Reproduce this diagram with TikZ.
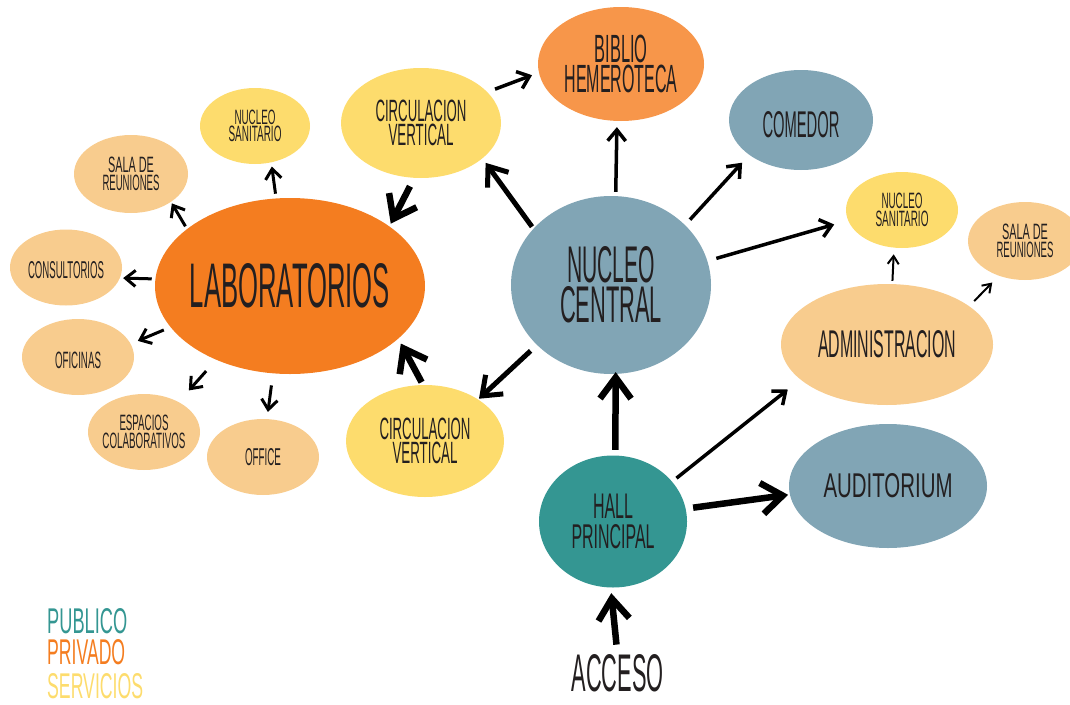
\documentclass[tikz,border=0pt]{standalone}
\usepackage{fontspec}
\usepackage{graphicx}
\newfontfamily\condfont{Liberation Sans}
\usetikzlibrary{arrows.meta,shapes.geometric,calc}
\definecolor{cLab}{HTML}{F47D20}
\definecolor{cBib}{HTML}{F7964A}
\definecolor{cYel}{HTML}{FDDC6D}
\definecolor{cLig}{HTML}{F8CC8E}
\definecolor{cBlu}{HTML}{81A5B5}
\definecolor{cTea}{HTML}{349692}
\definecolor{cTxt}{HTML}{231F20}
\newcommand{\fitline}[3]{\resizebox{#1pt}{#2pt}{\condfont #3}}
\tikzset{
  blob/.style n args={2}{ellipse, draw=none, inner sep=0pt, minimum width=#1pt, minimum height=#2pt},
  txt/.style={inner sep=0pt, align=center, text=cTxt, font=\fontsize{10pt}{#1pt}\selectfont},
  txt/.default=20,
  arrA/.style={line width=3pt, -{Straight Barb[length=10pt,width=16pt]}},
  arrB/.style={line width=3.5pt, -{Straight Barb[length=11pt,width=18pt]}},
  arrC/.style={line width=5pt, -{Straight Barb[length=17pt,width=26pt]}},
  arrD/.style={line width=6.5pt, -{Straight Barb[length=21pt,width=31pt]}},
  arrE/.style={line width=2pt, -{Straight Barb[length=8pt,width=11pt]}},
}
\begin{document}
\begin{tikzpicture}[x=1pt,y=-1pt]
\useasboundingbox (0,0) rectangle (1070,704);
\clip (0,0) rectangle (1070,704);
% ellipses
\node[blob={270}{176}, fill=cLab] (lab) at (290,286) {};
\node[blob={110}{76}, fill=cYel] (nsl) at (255,126) {};
\node[blob={114}{78}, fill=cLig] (salaL) at (131,174) {};
\node[blob={112}{76}, fill=cLig] (cons) at (66,267.5) {};
\node[blob={112}{76}, fill=cLig] (ofi) at (78,357) {};
\node[blob={112}{76}, fill=cLig] (esp) at (144,432) {};
\node[blob={112}{76}, fill=cLig] (office) at (263,457) {};
\node[blob={160}{110}, fill=cYel] (circT) at (421,123) {};
\node[blob={166}{114}, fill=cBib] (biblio) at (621,64) {};
\node[blob={144}{100}, fill=cBlu] (comedor) at (801,120) {};
\node[blob={200}{178}, fill=cBlu] (central) at (611,285) {};
\node[blob={158}{112}, fill=cYel] (circB) at (425,441) {};
\node[blob={112}{76}, fill=cYel] (nsr) at (902,210) {};
\node[blob={114}{78}, fill=cLig] (salaR) at (1025,241) {};
\node[blob={212}{121}, fill=cLig] (admin) at (887,344.5) {};
\node[blob={198}{124}, fill=cBlu] (aud) at (888,486) {};
\node[blob={148}{132}, fill=cTea] (hall) at (613,521.5) {};
% texts
\node[txt] (labT) at (lab) {\fitline{200}{44}{LABORATORIOS}};
\node[txt=17.5] (nslT) at (nsl) {\fitline{41}{14.5}{NUCLEO}\\\fitline{53}{15.5}{SANITARIO}};
\node[txt=17.5] (salaLT) at (salaL) {\fitline{46}{15.5}{SALA DE}\\\fitline{57}{15.5}{REUNIONES}};
\node[txt] (consT) at ($(cons)+(0,3)$) {\fitline{76}{17}{CONSULTORIOS}};
\node[txt] (ofiT) at ($(ofi)+(0,3)$) {\fitline{46}{16.5}{OFICINAS}};
\node[txt=17.5] (espT) at (esp) {\fitline{49}{15.5}{ESPACIOS}\\\fitline{83}{15.5}{COLABORATIVOS}};
\node[txt] (officeT) at (office) {\fitline{36}{17}{OFFICE}};
\node[txt=24] (circTT) at (circT) {\fitline{91}{21.5}{CIRCULACION}\\\fitline{65}{21.5}{VERTICAL}};
\node[txt=30] (biblioT) at (biblio) {\fitline{53}{27.5}{BIBLIO}\\\fitline{113}{27.5}{HEMEROTECA}};
\node[txt] (comedorT) at ($(comedor)+(0,5)$) {\fitline{77}{26}{COMEDOR}};
\node[txt=40] (centralT) at (central) {\fitline{88}{36}{NUCLEO}\\\fitline{102}{36}{CENTRAL}};
\node[txt=24] (circBT) at (circB) {\fitline{91}{21.5}{CIRCULACION}\\\fitline{65}{21.5}{VERTICAL}};
\node[txt=17.5] (nsrT) at (nsr) {\fitline{41}{15.5}{NUCLEO}\\\fitline{53}{15.5}{SANITARIO}};
\node[txt=18] (salaRT) at (salaR) {\fitline{46}{15.5}{SALA DE}\\\fitline{57}{15.5}{REUNIONES}};
\node[txt] (adminT) at (admin) {\fitline{138}{27}{ADMINISTRACION}};
\node[txt] (audT) at (aud) {\fitline{129}{24}{AUDITORIUM}};
\node[txt=29.5] (hallT) at (hall) {\fitline{40}{24.5}{HALL}\\\fitline{83}{24}{PRINCIPAL}};
\node[txt] (accT) at (617.5,673.5) {\fitline{92}{37}{ACCESO}};
% legend
\node[txt, anchor=west, text=cTea] (legPub) at (47,621.5) {\fitline{80}{25}{PUBLICO}};
\node[txt, anchor=west, text=cLab] (legPri) at (47,652.5) {\fitline{78}{25}{PRIVADO}};
\node[txt, anchor=west, text=cYel] (legSer) at (47,686.5) {\fitline{96}{25}{SERVICIOS}};
% arrows
\draw[arrA, shorten <=4.6pt, shorten >=4.1pt] (lab.99) -- (nsl.-66);
\draw[arrA, shorten <=3pt, shorten >=1.6pt] (lab.151) -- (salaL.-35);
\draw[arrA, shorten <=3.5pt, shorten >=3.1pt] (lab.177) -- (cons.-11);
\draw[arrA, shorten <=7.2pt, shorten >=7.7pt] (lab.199) -- (ofi.14);
\draw[arrA, shorten <=15pt, shorten >=15.4pt] (lab.225) -- (esp.41);
\draw[arrA, shorten <=12pt, shorten >=7pt] (lab.259) -- (office.84);
\draw[arrD, shorten <=9.3pt, shorten >=2.9pt] (circT.263) -- (lab.31);
\draw[arrD, shorten <=3pt, shorten >=5.4pt] (circB.92) -- (lab.-26);
\draw[arrC, shorten <=2.3pt, shorten >=5.4pt] (central.144) -- (circT.-30);
\draw[arrC, shorten <=8.6pt, shorten >=1pt] (central.219) -- (circB.38);
\draw[arrB, shorten <=4pt, shorten >=6pt] (central.87) -- (biblio.266);
\draw[arrB, shorten <=7.2pt, shorten >=10.5pt] (central.39) -- (comedor.214);
\draw[arrB, shorten <=9.2pt, shorten >=14.3pt] (central.14) -- (nsr.191);
\draw[arrB, shorten <=8.2pt, shorten >=7.2pt] (circT.25) -- (biblio.186);
\draw[arrD, shorten <=5.5pt, shorten >=-2pt] (hall.88) -- (central.273);
\draw[arrB, shorten <=5.5pt, shorten >=16pt] (hall.34) -- (admin.202);
\draw[arrD, shorten <=7.4pt, shorten >=1.7pt] (hall.10) -- (aud.185);
\draw[arrD, shorten <=10pt, shorten >=5.5pt] (accT.north) -- (hall.268);
\draw[arrE, shorten <=3pt, shorten >=6.5pt] (admin.85) -- (nsr.258);
\draw[arrE, shorten <=7pt, shorten >=9.3pt] (admin.25) -- (salaR.233);
\end{tikzpicture}
\end{document}
